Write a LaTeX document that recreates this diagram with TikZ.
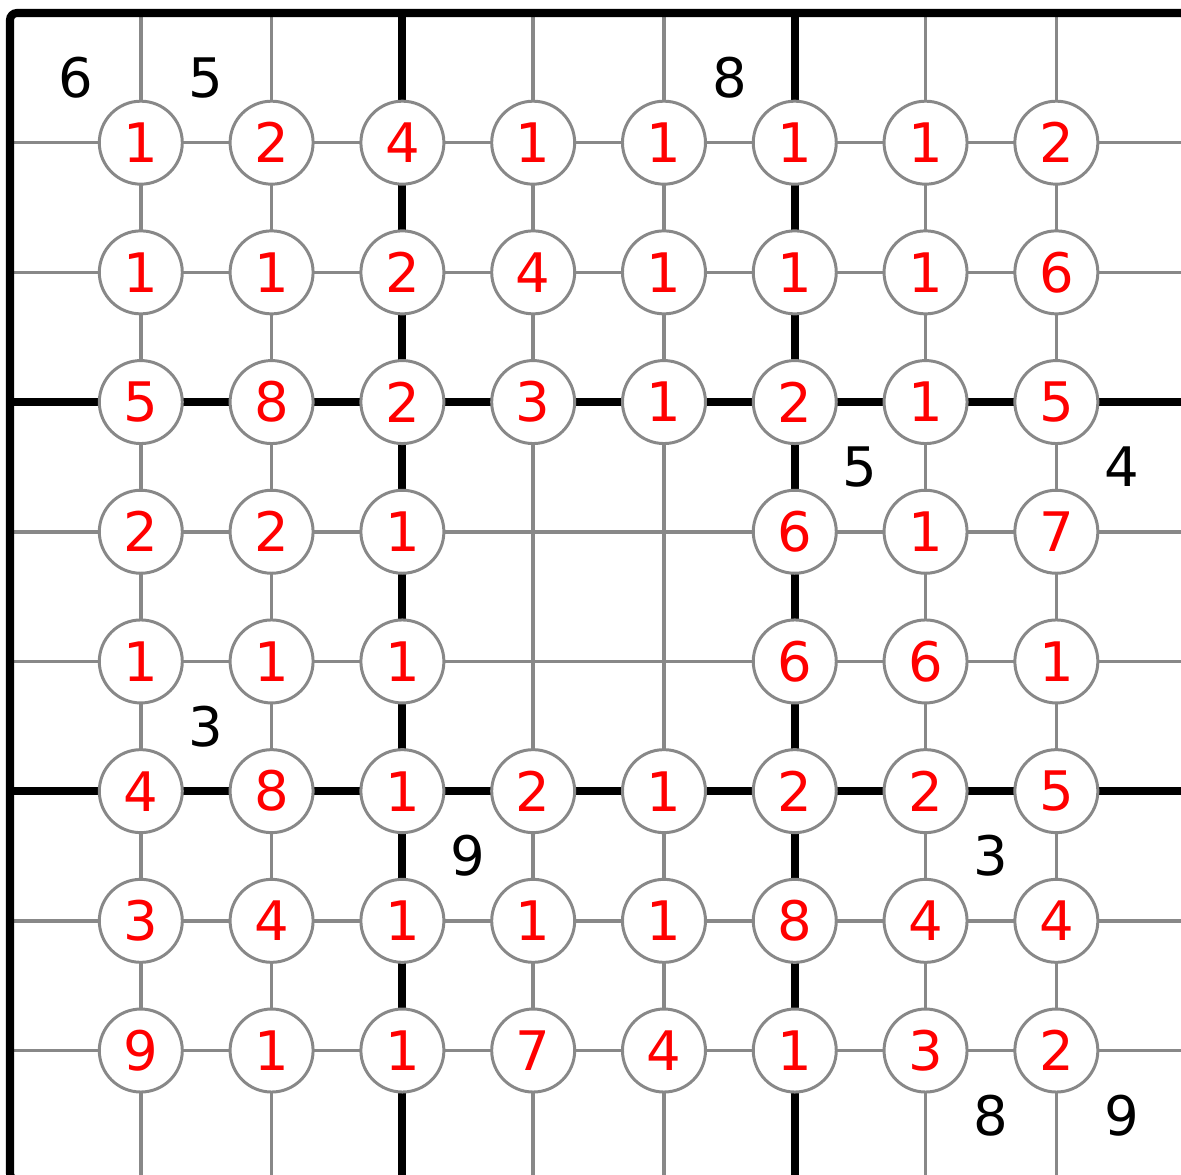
\documentclass[tikz,border=0pt]{standalone}
\usepackage{fontspec}
\setmainfont{DejaVu Sans}
\definecolor{gridgray}{RGB}{136,136,136}
\begin{document}
\begin{tikzpicture}[x=1.308cm, y=-1.297cm,
    thinline/.style={draw=gridgray, line width=1pt},
    boxline/.style={draw=black, line width=2.3pt},
    cell/.style={circle, draw=gridgray, fill=white, line width=0.85pt,
      minimum size=0.83cm, inner sep=0pt, text=red,
      font=\fontsize{15.5}{18}\selectfont},
    clue/.style={inner sep=0pt, font=\fontsize{15.5}{18}\selectfont}]
  \useasboundingbox (-0.0765,-0.1002) rectangle (8.953,8.959);

  % thin grid
  \foreach \k in {1,2,4,5,7,8} {
    \draw[thinline] (\k,0) -- (\k,9);
    \draw[thinline] (0,\k) -- (9,\k);
  }

  % box borders
  \foreach \k in {3,6} {
    \draw[boxline] (\k,0) -- (\k,9);
    \draw[boxline] (0,\k) -- (9,\k);
  }
  \draw[boxline, rounded corners=2pt] (0,0) rectangle (9,9);

  % circled numbers
  \foreach \row [count=\j] in {{1,2,4,1,1,1,1,2},{1,1,2,4,1,1,1,6},
      {5,8,2,3,1,2,1,5},{2,2,1,-,-,6,1,7},{1,1,1,-,-,6,6,1},
      {4,8,1,2,1,2,2,5},{3,4,1,1,1,8,4,4},{9,1,1,7,4,1,3,2}}
    \foreach \v [count=\i] in \row {
      \if\v-\else
        \node[cell] (c-\i-\j) at (\i,\j) {\v};
      \fi
    };

  % clues
  \foreach \x/\y/\n [count=\c] in {0.5/0.5/6, 1.5/0.5/5, 5.5/0.5/8,
      6.5/3.5/5, 8.5/3.5/4, 1.5/5.5/3, 3.5/6.5/9, 7.5/6.5/3,
      7.5/8.5/8, 8.5/8.5/9}
    \node[clue] (clue\c) at (\x,\y) {\n};
\end{tikzpicture}
\end{document}
